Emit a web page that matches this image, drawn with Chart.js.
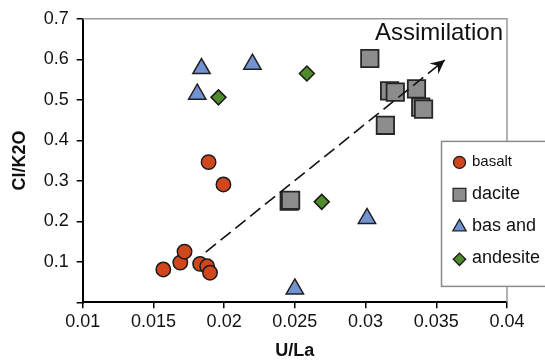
<!DOCTYPE html>
<html>
<head>
<meta charset="utf-8">
<script src="https://cdn.jsdelivr.net/npm/chart.js@4"></script>
<style>
  body { margin: 0; background: #fff; }
  canvas { display: block; }
</style>
</head>
<body>
<canvas id="myChart" width="545" height="362"></canvas>
<script>
// values (x = U/La, y = Cl/K2O)
var basaltX = [0.0157, 0.0169, 0.0172, 0.0183, 0.0188, 0.0190, 0.0189, 0.01995];
var basaltY = [0.081, 0.098, 0.125, 0.095, 0.089, 0.073, 0.346, 0.291];
var daciteX = [0.0303, 0.0317, 0.0321, 0.0336, 0.0339, 0.0341, 0.0314, 0.0246, 0.0247];
var daciteY = [0.602, 0.522, 0.519, 0.527, 0.482, 0.477, 0.437, 0.250, 0.252];
var basAndX = [0.0184, 0.0181, 0.0220, 0.0301, 0.0250];
var basAndY = [0.577, 0.514, 0.588, 0.207, 0.033];
var andesiteX = [0.0196, 0.02585, 0.0269];
var andesiteY = [0.506, 0.565, 0.248];
var arrowX = [0.0187, 0.0356];
var arrowY = [0.124, 0.598];

var xTicks = [0.01, 0.015, 0.02, 0.025, 0.03, 0.035, 0.04];
var yTicks = [0, 0.1, 0.2, 0.3, 0.4, 0.5, 0.6, 0.7];

var FONT = "'Liberation Sans', Arial, sans-serif";

function pts(xs, ys) {
  return xs.map(function (x, i) { return { x: x, y: ys[i] }; });
}

var legendItems = [
  { idx: 1, size: 15, r: 6 },
  { idx: 2, size: 18, r: 9 },
  { idx: 3, size: 18, r: 7.7 },
  { idx: 4, size: 18, r: 6.2 },
];

var extras = {
  id: "extras",
  beforeDatasetsDraw: function (chart) {
    var a = chart.chartArea, c = chart.ctx;
    c.save();
    c.strokeStyle = "#9a9a9a";
    c.lineWidth = 1.5;
    c.beginPath();
    c.moveTo(a.left, a.top);
    c.lineTo(a.right, a.top);
    c.lineTo(a.right, a.bottom);
    c.stroke();
    c.restore();
  },
  afterDatasetsDraw: function (chart) {
    var c = chart.ctx, a = chart.chartArea;
    // arrow head at the end of the dashed line
    var m = chart.getDatasetMeta(0).data;
    var p0 = m[0], p1 = m[m.length - 1];
    var ang = Math.atan2(p1.y - p0.y, p1.x - p0.x);
    c.save();
    c.translate(p1.x, p1.y);
    c.rotate(ang);
    c.fillStyle = "#111";
    c.beginPath();
    c.moveTo(0, 0);
    c.lineTo(-14, -7);
    c.lineTo(-9, 0);
    c.lineTo(-14, 7);
    c.closePath();
    c.fill();
    c.restore();

    // label
    c.save();
    c.fillStyle = "#111";
    c.font = "24px " + FONT;
    c.textAlign = "right";
    c.textBaseline = "alphabetic";
    c.fillText("Assimilation", a.right - 4, a.top + 21);
    c.restore();

    // legend box
    var lx = a.right - 65.5, ly = a.top + 122.6;
    c.save();
    c.fillStyle = "#fff";
    c.strokeStyle = "#8a8a8a";
    c.lineWidth = 1.5;
    c.fillRect(lx, ly, 120, 145);
    c.strokeRect(lx, ly, 120, 145);
    legendItems.forEach(function (it, k) {
      var ds = chart.data.datasets[it.idx];
      var cy = ly + 20 + k * 32.3;
      c.fillStyle = ds.backgroundColor;
      c.strokeStyle = ds.borderColor;
      c.lineWidth = 1.3;
      Chart.helpers.drawPoint(c, { pointStyle: ds.pointStyle, radius: it.r, rotation: 0, borderWidth: 1.3 }, lx + 18, cy + 1);
      c.fillStyle = "#111";
      c.font = it.size + "px " + FONT;
      c.textAlign = "left";
      c.textBaseline = "middle";
      c.fillText(ds.label, lx + 30.5, cy);
    });
    c.restore();
  },
};

var ctx = document.getElementById("myChart").getContext("2d");
var chart = new Chart(ctx, {
  type: "scatter",
  data: {
    datasets: [
      {
        label: "arrow",
        data: pts(arrowX, arrowY),
        showLine: true,
        borderColor: "#111",
        borderWidth: 1.6,
        borderDash: [13, 6],
        pointRadius: 0,
        pointHoverRadius: 0,
      },
      {
        label: "basalt",
        data: pts(basaltX, basaltY),
        pointStyle: "circle",
        pointRadius: 7.2,
        backgroundColor: "#d2461e",
        borderColor: "#1a1a1a",
        borderWidth: 1.5,
      },
      {
        label: "dacite",
        data: pts(daciteX, daciteY),
        pointStyle: "rect",
        pointRadius: 12.3,
        backgroundColor: "#8c8c8c",
        borderColor: "#262626",
        borderWidth: 1.8,
      },
      {
        label: "bas and",
        data: pts(basAndX, basAndY),
        pointStyle: "triangle",
        pointRadius: 10,
        backgroundColor: "#7392d2",
        borderColor: "#1f1f1f",
        borderWidth: 1.5,
      },
      {
        label: "andesite",
        data: pts(andesiteX, andesiteY),
        pointStyle: "rectRot",
        pointRadius: 7.5,
        backgroundColor: "#4f8a2b",
        borderColor: "#1a1a1a",
        borderWidth: 1.5,
      },
    ],
  },
  options: {
    responsive: false,
    animation: false,
    devicePixelRatio: 1,
    layout: { padding: { left: 5, right: 38, top: 16, bottom: 0 } },
    plugins: { legend: { display: false }, tooltip: { enabled: false } },
    scales: {
      x: {
        type: "linear",
        min: xTicks[0],
        max: xTicks[xTicks.length - 1],
        afterBuildTicks: function (s) { s.ticks = xTicks.map(function (v) { return { value: v }; }); },
        afterFit: function (s) { s.height = 59.7; },
        ticks: {
          color: "#111",
          font: { family: FONT, size: 18 },
          padding: 3,
          maxRotation: 0,
          callback: function (v) { return String(+v.toFixed(3)); },
        },
        grid: { drawOnChartArea: false, tickLength: 6, color: "#000", lineWidth: 1.5 },
        border: { color: "#000", width: 2 },
        title: {
          display: true,
          text: "U/La",
          color: "#111",
          font: { family: FONT, size: 18, weight: "bold" },
          padding: { top: 0, bottom: 0 },
        },
      },
      y: {
        type: "linear",
        min: yTicks[0],
        max: yTicks[yTicks.length - 1],
        afterBuildTicks: function (s) { s.ticks = yTicks.map(function (v) { return { value: v }; }); },
        afterFit: function (s) { s.width = 77.7; },
        ticks: {
          color: "#111",
          font: { family: FONT, size: 18 },
          padding: 8,
          callback: function (v) { return v === 0 ? "" : v.toFixed(1); },
        },
        grid: { drawOnChartArea: false, tickLength: 6, color: "#000", lineWidth: 1.5 },
        border: { color: "#000", width: 2 },
        title: {
          display: true,
          text: "Cl/K2O",
          color: "#111",
          font: { family: FONT, size: 18, weight: "bold" },
          padding: { top: 4, bottom: 4 },
        },
      },
    },
  },
  plugins: [extras],
});
</script>
</body>
</html>
